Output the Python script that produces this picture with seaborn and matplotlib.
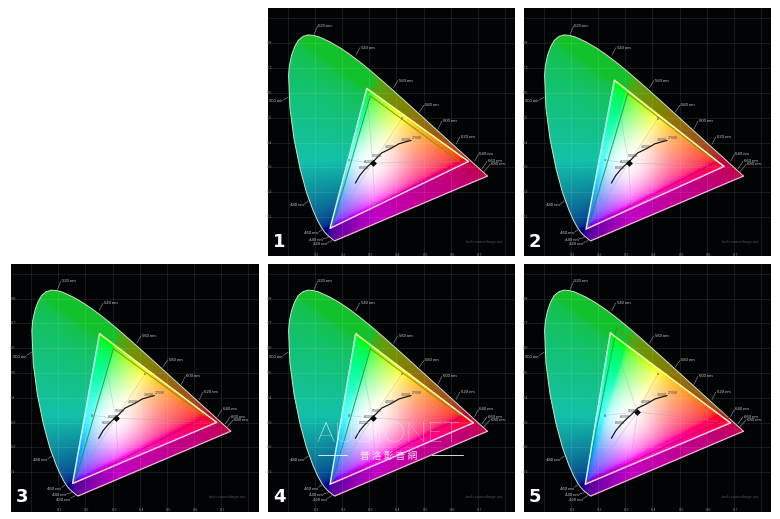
import numpy as np
import pandas as pd
import matplotlib
matplotlib.use("Agg")
import matplotlib.pyplot as plt
from matplotlib.patches import Polygon
from matplotlib.path import Path
import seaborn as sns

# CIE 1931 spectral locus, 380..700 nm, with extra readings along the rounded top
LOCUS_X = [0.1741,0.1740,0.1738,0.1736,0.1733,0.1730,0.1726,0.1721,0.1714,0.1703,0.1689,0.1669,0.1644,0.1611,0.1566,0.1510,0.1440,0.1355,0.1241,0.1096,0.0913,0.0687,0.0454,0.0235,0.0082,0.0039,0.0032,0.0062,0.0139,0.0250,0.0389,0.0555,0.0743,0.0940,0.1142,0.1547,0.1929,0.2296,0.2658,0.3016,0.3373,0.3731,0.4087,0.4441,0.4788,0.5125,0.5448,0.5752,0.6029,0.6270,0.6658,0.6915,0.7079,0.7190,0.7260,0.7347]
LOCUS_Y = [0.0050,0.0050,0.0049,0.0049,0.0048,0.0048,0.0048,0.0048,0.0051,0.0058,0.0069,0.0086,0.0109,0.0138,0.0177,0.0227,0.0297,0.0399,0.0578,0.0868,0.1327,0.2007,0.2950,0.4127,0.5384,0.6548,0.6700,0.7100,0.7502,0.7850,0.8120,0.8270,0.8338,0.8320,0.8262,0.8059,0.7816,0.7543,0.7243,0.6923,0.6589,0.6245,0.5896,0.5547,0.5202,0.4866,0.4544,0.4242,0.3965,0.3725,0.3340,0.3083,0.2920,0.2809,0.2740,0.2653]

PANEL_NAMES = ["1", "2", "3", "4", "5"]
PANEL_LEFT_PX = [267.7, 523.7, 11.0, 267.7, 523.7]
PANEL_TOP_PX = [8.3, 8.3, 263.5, 263.5, 263.5]
PANEL_W_PX, PANEL_H_PX = 247.5, 248.0

# measured gamut (R, G, B) and reference gamut (R, G, B) of every panel
OUTER_X = [[.665,.291,.156],[.663,.260,.156],[.683,.252,.153],[.683,.250,.156],[.687,.245,.153]]
OUTER_Y = [[.324,.618,.055],[.304,.651,.052],[.301,.658,.055],[.299,.658,.052],[.299,.661,.052]]
INNER_X = [[.634,.304,.162],[.634,.309,.162],[.644,.303,.160],[.640,.304,.162],[.680,.268,.155]]
INNER_Y = [[.322,.588,.055],[.322,.598,.055],[.324,.598,.055],[.324,.598,.055],[.320,.681,.058]]

WHITE_X, WHITE_Y = [.312, .312, .312, .312, .345], [.318, .318, .318, .318, .343]
SECONDARY_X = [.225, .420, .321]
SECONDARY_Y = [.329, .497, .154]

PLANCK_X = [.249,.2647,.2807,.2952,.3135,.3221,.3457,.3805,.4090,.4369,.4537]
PLANCK_Y = [.237,.2670,.2884,.3048,.3237,.3318,.3585,.3768,.3953,.4041,.4090]
KELVIN_LABELS = ["8000K", "6500K", "5000K", "4000K", "3000K", "2700K"]
KELVIN_X = [.280, .300, .327, .375, .435, .475]
KELVIN_Y = [.297, .322, .346, .384, .412, .418]

NM_LABELS = ["520 nm","540 nm","560 nm","580 nm","600 nm","620 nm","640 nm","660 nm","680 nm","500 nm","480 nm","460 nm","440 nm","420 nm"]
NM_AX = [.097,.251,.389,.484,.552,.619,.687,.714,.720,.002,.076,.129,.150,.163]
NM_AY = [.836,.752,.620,.523,.453,.393,.324,.294,.281,.584,.166,.052,.018,.006]
NM_TX = [.110,.265,.405,.503,.567,.633,.702,.733,.745,-.016,.061,.113,.130,.145]
NM_TY = [.870,.782,.650,.553,.486,.423,.354,.324,.312,.571,.153,.039,.012,-.005]

GRID_X = [0.0,0.1,0.2,0.3,0.4,0.5,0.6,0.7,0.8]
GRID_Y = [0.1,0.2,0.3,0.4,0.5,0.6,0.7,0.8,0.9]

XLIM = (-.0736, .8368)
YLIM = (-.058, .941)

M = np.array([[3.2406,-1.5372,-.4986],[-.9689,1.8758,.0415],[.0557,-.2040,1.0570]])

sns.set_theme(style="dark", rc={"axes.facecolor": "#020305", "figure.facecolor": "white"})
plt.rcParams["font.family"] = ["Liberation Sans", "DejaVu Sans"]

fig = plt.figure(figsize=(7.8, 5.19), dpi=100)


def seg(ax, xs, ys, color, lw, alpha=1.0, z=5):
    df = pd.DataFrame({"x": xs, "y": ys})
    sns.lineplot(data=df, x="x", y="y", sort=False, estimator=None, ax=ax, color=color,
                 lw=lw, alpha=alpha, zorder=z, legend=False)


def chroma_image(ox, oy):
    gx = np.linspace(0, .75, 450)
    gy = np.linspace(0, .85, 450)
    xx, yy = np.meshgrid(gx, gy)
    yy = np.maximum(yy, 1e-3)
    xyz = np.stack([xx / yy, np.ones_like(xx), (1 - xx - yy) / yy], -1)
    lin = np.clip(xyz @ M.T, 0, None)
    lin = lin / np.maximum(lin.max(-1, keepdims=True), 1e-6)
    rgb = lin ** (1 / 2.6)
    inside = Path(np.c_[ox, oy]).contains_points(np.c_[xx.ravel(), yy.ravel()]).reshape(xx.shape)
    # washed out centre inside the gamut
    d2 = ((xx - .31) / .105) ** 2 + ((yy - .32) / .115) ** 2
    white = .75 * np.exp(-d2)
    bright = rgb + (1 - rgb) * white[..., None]
    # muted colours outside the gamut
    r, g, b = rgb[..., 0], rgb[..., 1], rgb[..., 2]
    mr = r + .10 * g * (1 - r)
    mb = np.clip(b * .66 + .22 * g * (1 - r) + .35 * r * (1 - g), 0, 1)
    mute = .76 * (1 - .33 * r * g)
    dull = np.stack([mr * mute, g * mute, mb * mute], -1)
    return np.where(inside[..., None], bright, dull), (gx[0], gx[-1], gy[0], gy[-1])


for i, name in enumerate(PANEL_NAMES):
    ax = fig.add_axes([PANEL_LEFT_PX[i] / 780, 1 - (PANEL_TOP_PX[i] + PANEL_H_PX) / 519,
                       PANEL_W_PX / 780, PANEL_H_PX / 519])
    ax.set_xticks([])
    ax.set_yticks([])
    for s in ax.spines.values():
        s.set_visible(False)

    rgb, ext = chroma_image(OUTER_X[i], OUTER_Y[i])
    im = ax.imshow(rgb, origin="lower", extent=ext, aspect="auto", interpolation="bilinear", zorder=2)
    clip = Polygon(np.c_[LOCUS_X, LOCUS_Y], closed=True, transform=ax.transData, fc="none", ec="none")
    ax.add_patch(clip)
    im.set_clip_path(clip)

    for g in GRID_X:
        ax.axvline(g, color="white", lw=.5, alpha=.13, zorder=3)
    for g in GRID_Y:
        ax.axhline(g, color="white", lw=.5, alpha=.13, zorder=3)
    for g in GRID_X[1:8]:
        ax.text(g + .006, -.051, f"{g:.1f}", color="#8a8a8a", fontsize=2.8, ha="center", va="center", zorder=8)
    for g in GRID_Y[:8]:
        ax.text(-.066, g, f"{g:.1f}", color="#8a8a8a", fontsize=2.8, ha="center", va="center", zorder=8)

    seg(ax, LOCUS_X, LOCUS_Y, "#cfe3c4", .7, z=6)
    seg(ax, [LOCUS_X[-1], LOCUS_X[0]], [LOCUS_Y[-1], LOCUS_Y[0]], "#ffb4dc", .9, z=6)

    ox, oy, ix, iy = OUTER_X[i], OUTER_Y[i], INNER_X[i], INNER_Y[i]
    wx, wy = WHITE_X[i], WHITE_Y[i]

    for k in range(3):
        seg(ax, [wx, ox[k]], [wy, oy[k]], "#9a9a9a", .5, alpha=.4, z=4)
    for sx, sy in zip(SECONDARY_X, SECONDARY_Y):
        seg(ax, [wx, sx], [wy, sy], "#9a9a9a", .5, alpha=.4, z=4)

    # reference gamut: dark edges
    seg(ax, [ix[2], ix[1]], [iy[2], iy[1]], "#009a4a", .8, alpha=.8, z=7)
    seg(ax, [ix[1], ix[0]], [iy[1], iy[0]], "#7d8a00", .8, alpha=.8, z=7)
    seg(ax, [ix[0], ix[2]], [iy[0], iy[2]], "#c00070", .8, alpha=.8, z=7)
    # measured gamut: bright edges
    seg(ax, [ox[2], ox[1]], [oy[2], oy[1]], "#c8fff0", 1.05, z=7.5)
    seg(ax, [ox[1], ox[0]], [oy[1], oy[0]], "#fbffc0", 1.05, z=7.5)
    seg(ax, [ox[0], ox[2]], [oy[0], oy[2]], "#ffd0ec", 1.05, z=7.5)

    sns.scatterplot(x=SECONDARY_X, y=SECONDARY_Y, ax=ax, s=3, color="#808080", edgecolor="none",
                    linewidth=0, marker="s", alpha=.7, zorder=8, legend=False)

    seg(ax, PLANCK_X, PLANCK_Y, "#1a1a1a", .9, z=8)
    sns.scatterplot(x=[wx], y=[wy], ax=ax, s=12, color="#050505", marker="D", linewidth=0, zorder=9, legend=False)
    for t, tx, ty in zip(KELVIN_LABELS, KELVIN_X, KELVIN_Y):
        ax.text(tx, ty, t, fontsize=2.6, color="#444444", ha="center", va="center", zorder=9)

    for t, ax_, ay_, tx, ty in zip(NM_LABELS, NM_AX, NM_AY, NM_TX, NM_TY):
        seg(ax, [ax_, tx], [ay_, ty], "#9a9a9a", .4, z=6)
        if tx > ax_:
            ax.text(tx + .003, ty, t, fontsize=3.1, color="#c8c8c8", ha="left", va="center", zorder=8)
        else:
            ax.text(tx - .002, ty - .005, t, fontsize=3.1, color="#c8c8c8", ha="right", va="center", zorder=8)

    ax.text(.79, -.001, "tech.sourceforge.net", fontsize=2.9, color="#5c5c5c", ha="right", va="center", zorder=8, alpha=.9)
    ax.text(-.032, .0, name, fontsize=13, color="white", fontweight="bold", ha="center", va="center", zorder=10,
            family="DejaVu Sans")

    if name == "4":
        ax.text(.369, .254, "AUDIONET", fontsize=20.5, color="white", alpha=.95, ha="center", va="center",
                fontweight="light", family="Lato", zorder=11)
        seg(ax, [.110, .217], [.171, .171], "white", .7, alpha=.85, z=11)
        seg(ax, [.530, .643], [.171, .171], "white", .7, alpha=.85, z=11)
        ax.text(.373, .164, "普 洛 影 音 網", fontsize=7, color="white", alpha=.85, ha="center", va="center",
                family=["Noto Sans CJK TC", "DejaVu Sans"], zorder=11)

    ax.set_xlim(*XLIM)
    ax.set_ylim(*YLIM)
    ax.set_xlabel("")
    ax.set_ylabel("")

fig.savefig("out.png", dpi=100, facecolor="white")
